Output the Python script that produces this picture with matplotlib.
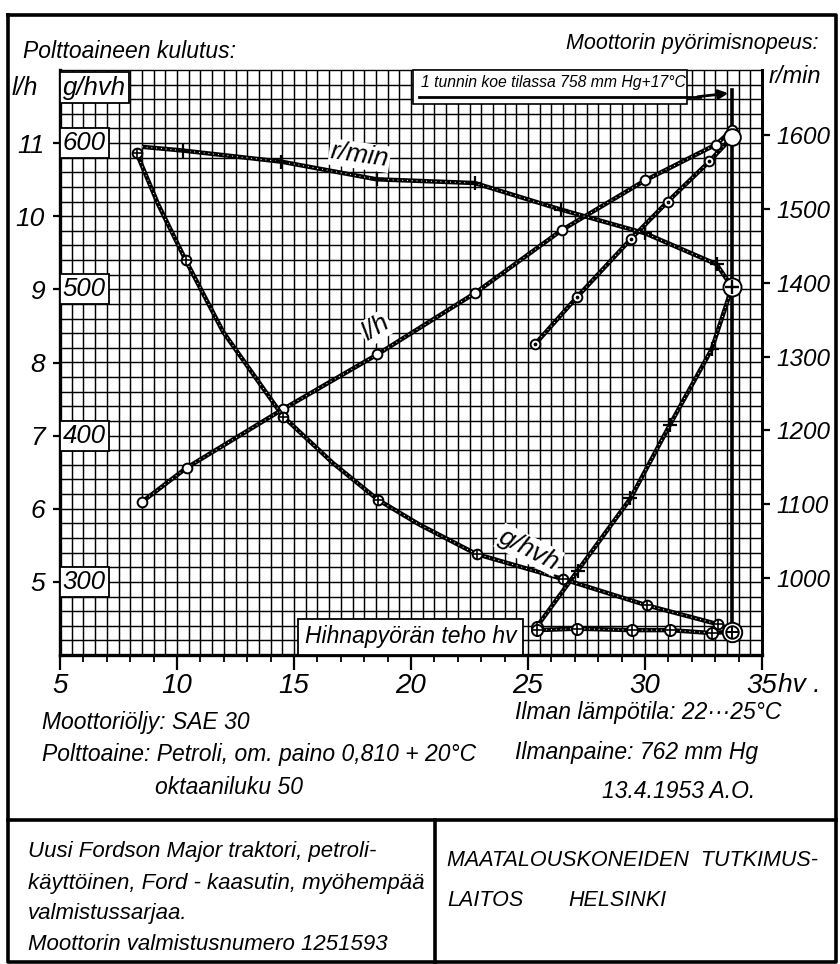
import matplotlib
matplotlib.use("Agg")
import matplotlib.pyplot as plt
from matplotlib.lines import Line2D
from matplotlib.patches import Rectangle, FancyArrowPatch
import numpy as np

plt.rcParams['font.family'] = ['Liberation Sans', 'DejaVu Sans']
plt.rcParams['font.style'] = 'italic'

# ---------------- data ----------------
# fuel consumption l/h, governed range (open circles)
lh_hp = [8.49, 10.41, 14.52, 18.56, 22.74, 26.44, 30.00, 33.03, 33.72]
lh_val = [6.09, 6.56, 7.36, 8.11, 8.95, 9.81, 10.49, 10.98, 11.18]
# fuel consumption l/h, overload range (dotted circles)
lh2_hp = [25.30, 27.08, 29.40, 30.97, 32.75, 33.72]
lh2_val = [8.25, 8.89, 9.69, 10.20, 10.75, 11.08]
# specific consumption g/hvh, governed range
gh_hp = [8.28, 10.37, 14.54, 18.60, 22.80, 26.48, 30.07, 33.13]
gh_val = [593, 520, 413, 356, 319, 302, 284, 271]
gh_trace_hp = [8.28, 9.20, 10.37, 11.97, 14.54, 16.68, 18.60, 20.38, 22.80, 26.48, 30.07, 33.13, 33.72]
gh_trace_val = [593, 558, 520, 471, 413, 381, 356, 339, 319, 302, 284, 271, 267]
# specific consumption g/hvh, overload range
gh2_hp = [25.37, 27.10, 29.44, 31.08, 32.86, 33.72]
gh2_val = [267, 268, 267, 267, 265, 266]
# engine speed r/min, governed range
rpm_hp = [8.50, 10.24, 14.44, 18.53, 22.72, 26.41, 30.00, 33.06, 33.72]
rpm_val = [1584, 1579, 1564, 1540, 1535, 1499, 1467, 1425, 1394]
# engine speed r/min, overload range
rpm2_hp = [25.37, 27.12, 29.38, 31.07, 32.85, 33.72]
rpm2_val = [934, 1010, 1108, 1208, 1310, 1394]
max_hp = 33.72

x_ticks = [5, 10, 15, 20, 25, 30, 35]
lh_ticks = [5, 6, 7, 8, 9, 10, 11]
gh_ticks = [300, 400, 500, 600]
rpm_ticks = [1000, 1100, 1200, 1300, 1400, 1500, 1600]

# ---------------- figure ----------------
W, H = 840, 964
fig = plt.figure(figsize=(W / 100, H / 100), dpi=100)
fig.patch.set_facecolor('white')


def fx(x):
    return x / W


def fy(y):
    return 1 - y / H


L, R, T, B = 60, 762, 70, 655
ax = fig.add_axes([fx(L), fy(B), fx(R) - fx(L), fy(T) - fy(B)])
ax.set_xlim(5, 35)
ax.set_ylim(4, 12)
ax.patch.set_facecolor('white')

# grid paper
ax.vlines(np.arange(5.5, 35, 0.5), 4, 12, color='black', lw=1.05, zorder=0.5)
ax.hlines(np.arange(4.2, 12, 0.2), 5, 35, color='black', lw=1.05, zorder=0.5)

for s in ['left', 'bottom']:
    ax.spines[s].set_linewidth(2.4)
ax.spines['right'].set_linewidth(2.0)
ax.spines['top'].set_linewidth(1.0)

ax.set_xticks(x_ticks)
ax.set_xticklabels([str(v) for v in x_ticks])
ax.set_xticks(np.arange(5, 36, 1), minor=True)
ax.tick_params(axis='x', which='major', direction='out', length=11, width=1.6,
               labelsize=20, pad=2)
ax.tick_params(axis='x', which='minor', direction='out', length=5, width=1.3)
ax.set_yticks(lh_ticks)
ax.set_yticklabels([str(v) for v in lh_ticks])
ax.tick_params(axis='y', direction='out', length=5, width=1.6, labelsize=19, pad=6)

ax2 = ax.twinx()
ax2.set_ylim(896, 1688)
ax2.set_yticks(rpm_ticks)
ax2.set_yticklabels([str(v) for v in rpm_ticks])
ax2.tick_params(axis='y', direction='out', length=6, width=1.6, labelsize=17.5, pad=4)
for s in ['left', 'bottom', 'top']:
    ax2.spines[s].set_visible(False)
ax2.spines['right'].set_linewidth(2.0)

ax3 = ax.twinx()
ax3.set_ylim(250, 650)
ax3.axis('off')


def curve(a, x, y):
    a.plot(x, y, color='black', lw=3.2, solid_capstyle='butt', zorder=3)
    a.plot(x, y, color='white', lw=0.8, ls=(0, (0.8, 3.5)), zorder=3.2)


def circ(a, x, y, ms=7, inner=None, ims=6, imew=1.2):
    a.plot(x, y, ls='none', marker='o', ms=ms, mfc='white', mec='black', mew=1.4, zorder=5)
    if inner:
        a.plot(x, y, ls='none', marker=inner, ms=ims, color='black', mew=imew, zorder=6)


# l/h curves
curve(ax, lh_hp, lh_val)
circ(ax, lh_hp, lh_val, ms=7)
curve(ax, lh2_hp, lh2_val)
circ(ax, lh2_hp[:-1], lh2_val[:-1], ms=7, inner='.', ims=3)
circ(ax, lh2_hp[-1:], lh2_val[-1:], ms=12)

# g/hvh curves
curve(ax3, gh_trace_hp, gh_trace_val)
circ(ax3, gh_hp, gh_val, ms=7, inner='+', ims=7)
curve(ax3, gh2_hp, gh2_val)
circ(ax3, gh2_hp, gh2_val, ms=8, inner='+', ims=8)
circ(ax3, gh2_hp[-1:], gh2_val[-1:], ms=14)
circ(ax3, gh2_hp[-1:], gh2_val[-1:], ms=9, inner='+', ims=9)

# r/min curves
curve(ax2, rpm_hp, rpm_val)
ax2.plot(rpm_hp[1:-1], rpm_val[1:-1], ls='none', marker='+', ms=10, mew=1.6,
         color='black', zorder=6)
curve(ax2, rpm2_hp, rpm2_val)
ax2.plot(rpm2_hp[1:-1], rpm2_val[1:-1], ls='none', marker='+', ms=10, mew=1.6,
         color='black', zorder=6)
circ(ax2, rpm2_hp[:1], rpm2_val[:1], ms=8, inner='+', ims=8)
circ(ax2, rpm_hp[-1:], rpm_val[-1:], ms=13, inner='+', ims=10, imew=1.7)

# maximum power vertical line
ax.axvline(max_hp, ymin=0.047, ymax=0.965, color='black', lw=2.6, zorder=2.5)

# value boxes on the left
box = dict(boxstyle='square,pad=0.12', fc='white', ec='black', lw=1.3)
for g in gh_ticks:
    ax3.text(5.12, g, str(g), ha='left', va='center', fontsize=18.5, bbox=box,
             zorder=7)
ax3.text(5.12, 638, 'g/hvh', ha='left', va='center', fontsize=18.5, bbox=box, zorder=7)

# curve labels
lab = dict(boxstyle='square,pad=0.05', fc='white', ec='none')
ax3.text(17.8, 10.83, 'r/min', transform=ax.transData, rotation=-8, ha='center',
         va='center', fontsize=19, bbox=lab, zorder=8)
ax3.text(18.5, 8.47, 'l/h', transform=ax.transData, rotation=32, ha='center',
         va='center', fontsize=19, bbox=lab, zorder=8)
ax3.text(25.05, 5.44, 'g/hvh', transform=ax.transData, rotation=-27, ha='center',
         va='center', fontsize=19, bbox=lab, zorder=8)
ax3.text(15.45, 4.25, 'Hihnapyörän teho hv', transform=ax.transData, ha='left',
         va='center', fontsize=16.5,
         bbox=dict(boxstyle='square,pad=0.28', fc='white', ec='black', lw=1.3), zorder=8)

# top box with arrow
fig.add_artist(Rectangle((fx(413), fy(104)), fx(687) - fx(413), fy(70) - fy(104),
                         transform=fig.transFigure, fc='white', ec='black', lw=1.2,
                         zorder=10))
fig.text(fx(421), fy(83), '1 tunnin koe tilassa 758 mm Hg+17°C', fontsize=11.3,
         ha='left', va='center', zorder=11)
fig.add_artist(Line2D([fx(419), fx(700)], [fy(97), fy(97)], transform=fig.transFigure,
                      color='black', lw=2.0, zorder=11))
fig.add_artist(FancyArrowPatch((fx(695), fy(97)), (fx(731), fy(93)),
                               transform=fig.transFigure, arrowstyle='-|>',
                               mutation_scale=14, color='black', lw=2.0, zorder=11))

# axis titles
fig.text(fx(23), fy(52), 'Polttoaineen kulutus:', fontsize=16.5, ha='left', va='center')
fig.text(fx(818), fy(43), 'Moottorin pyörimisnopeus:', fontsize=15.5, ha='right',
         va='center')
fig.text(fx(12), fy(88), 'l/h', fontsize=18, ha='left', va='center')
fig.text(fx(821), fy(77), 'r/min', fontsize=17, ha='right', va='center')
fig.text(fx(778), fy(685), 'hv .', fontsize=19, ha='left', va='center')

# notes
fs = 16.5
fig.text(fx(42), fy(722), 'Moottoriöljy: SAE 30', fontsize=fs, va='center')
fig.text(fx(42), fy(755), 'Polttoaine: Petroli, om. paino 0,810 + 20°C', fontsize=fs,
         va='center')
fig.text(fx(155), fy(787), 'oktaaniluku 50', fontsize=fs, va='center')
fig.text(fx(515), fy(713), 'Ilman lämpötila: 22···25°C', fontsize=fs, va='center')
fig.text(fx(515), fy(752), 'Ilmanpaine: 762 mm Hg', fontsize=fs, va='center')
fig.text(fx(602), fy(792), '13.4.1953 A.O.', fontsize=fs, va='center')

fb = 16
fig.text(fx(28), fy(852), 'Uusi Fordson Major traktori, petroli-', fontsize=fb,
         va='center')
fig.text(fx(28), fy(884), 'käyttöinen, Ford - kaasutin, myöhempää', fontsize=fb,
         va='center')
fig.text(fx(28), fy(913), 'valmistussarjaa.', fontsize=fb, va='center')
fig.text(fx(28), fy(945), 'Moottorin valmistusnumero 1251593', fontsize=fb,
         va='center')
fig.text(fx(447), fy(860), 'MAATALOUSKONEIDEN  TUTKIMUS-', fontsize=15.5, va='center')
fig.text(fx(447), fy(900), 'LAITOS', fontsize=15.5, va='center')
fig.text(fx(568), fy(900), 'HELSINKI', fontsize=15.5, va='center')


# drawing frame
def fline(xs, ys, lw=2.6):
    fig.add_artist(Line2D([fx(v) for v in xs], [fy(v) for v in ys],
                          transform=fig.transFigure, color='black', lw=lw, zorder=12))


fline([8, 836, 836, 8, 8], [15, 15, 962, 962, 15])
fline([8, 836], [820, 820])
fline([435, 435], [820, 962])

fig.savefig('out.png', dpi=100, facecolor='white')
